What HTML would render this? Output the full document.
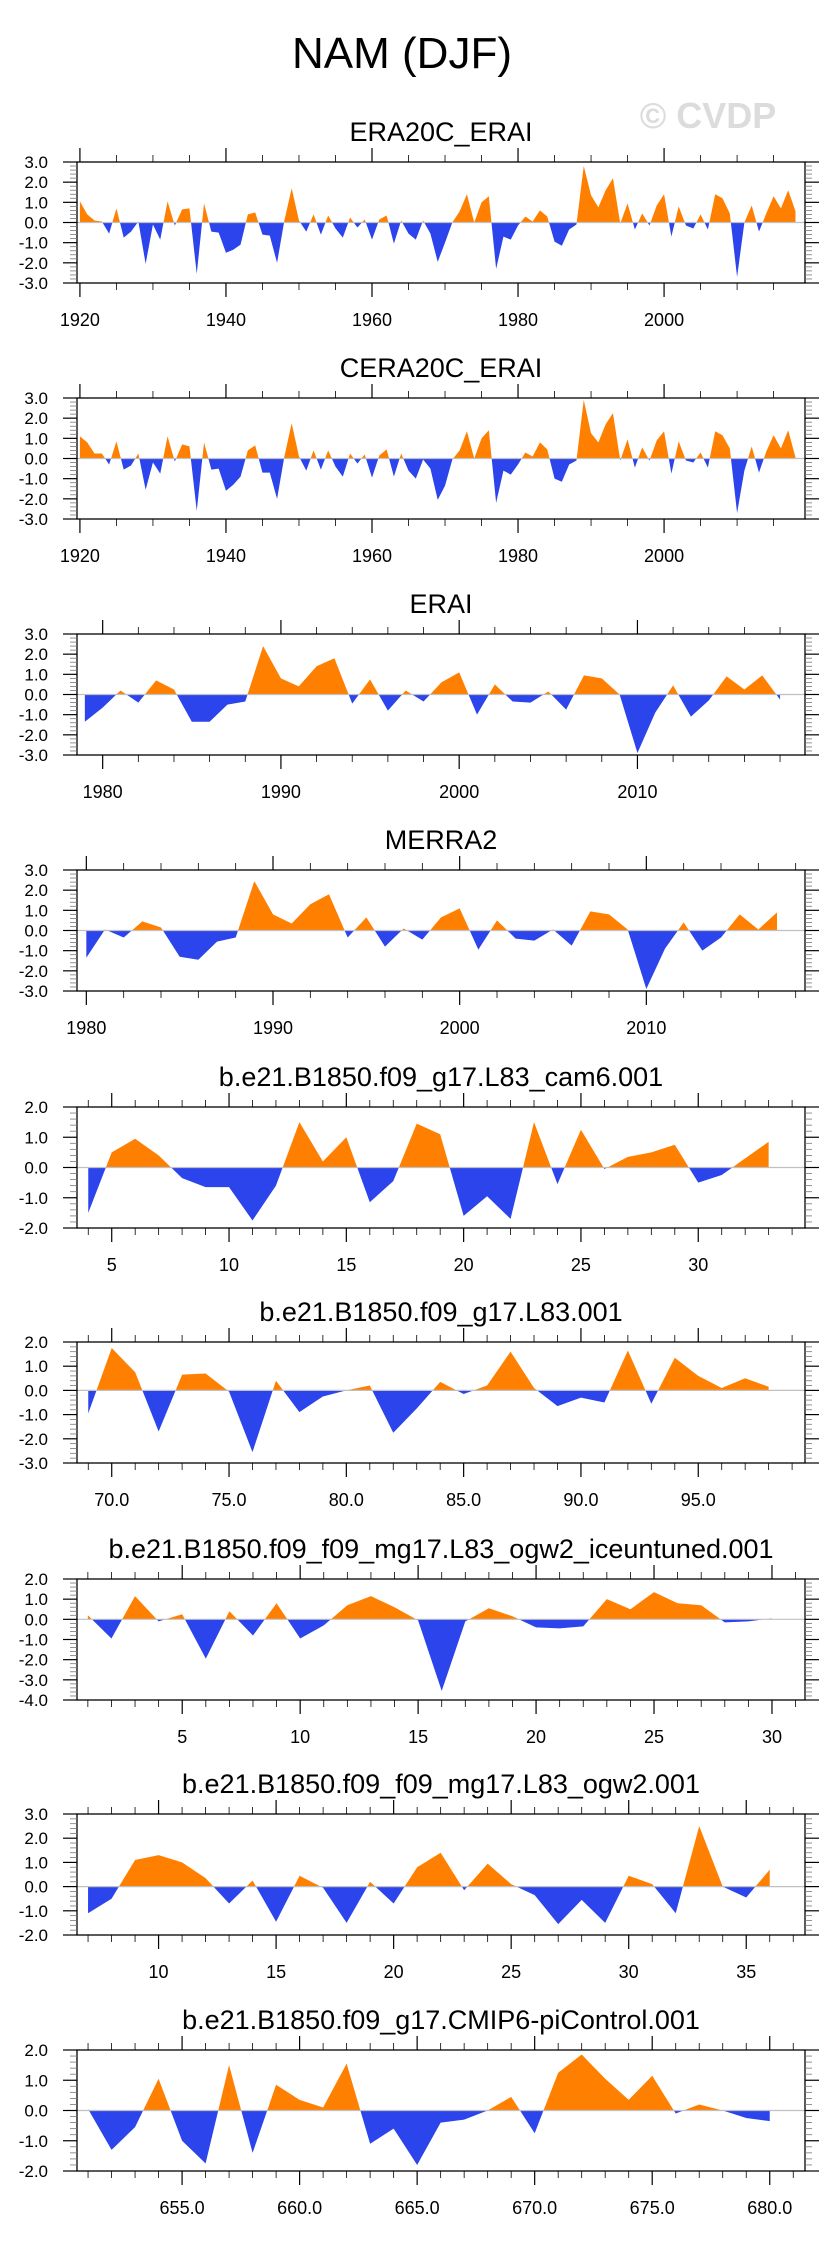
<!DOCTYPE html>
<html><head><meta charset="utf-8"><style>
html,body{margin:0;padding:0;background:#fff;}
svg{display:block;font-family:"Liberation Sans",Arial,sans-serif;}
</style></head><body>
<svg id="chart" width="829" height="2245" viewBox="0 0 829 2245">
<text x="402" y="68" font-size="44" text-anchor="middle" fill="#000">NAM (DJF)</text>
<text x="708" y="128" font-size="36" font-weight="bold" text-anchor="middle" fill="#dcdcdc">© CVDP</text>
</svg>
<script>
const era20cStart = 1920;
const era20cValues = [1.05,0.4,0.1,0.05,-0.55,0.7,-0.75,-0.45,0.05,-2.05,-0.1,-0.85,1.05,-0.15,0.65,0.7,-2.55,0.95,-0.45,-0.5,-1.5,-1.35,-1.1,0.4,0.5,-0.6,-0.65,-2.0,0.1,1.7,0.1,-0.45,0.4,-0.6,0.35,-0.3,-0.75,0.25,-0.25,0.15,-0.85,0.15,0.35,-1.05,0.1,-0.55,-0.85,0.1,-0.55,-1.95,-1.0,0,0.55,1.4,0,1.0,1.3,-2.3,-0.7,-0.85,-0.15,0.3,0.05,0.6,0.3,-0.95,-1.15,-0.35,-0.1,2.8,1.35,0.75,1.6,2.2,-0.05,0.95,-0.35,0.45,-0.15,0.85,1.4,-0.7,0.8,-0.15,-0.3,0.4,-0.35,1.4,1.2,0.45,-2.7,0,0.85,-0.45,0.45,1.3,0.7,1.6,0.55];
const cera20cStart = 1920;
const cera20cValues = [1.1,0.8,0.25,0.25,-0.3,0.85,-0.55,-0.35,0.25,-1.55,-0.2,-0.75,1.1,-0.15,0.7,0.6,-2.6,0.8,-0.55,-0.5,-1.6,-1.3,-0.9,0.4,0.65,-0.7,-0.7,-2.0,0.1,1.75,0.1,-0.6,0.4,-0.55,0.4,-0.4,-0.9,0.25,-0.25,0.2,-0.95,0.15,0.45,-0.9,0.25,-0.6,-1.0,-0.05,-0.5,-2.05,-1.35,-0.05,0.4,1.35,0,1.0,1.4,-2.2,-0.6,-0.8,-0.3,0.3,0.1,0.8,0.45,-1.0,-1.15,-0.3,-0.1,2.9,1.25,0.8,1.7,2.25,-0.1,0.95,-0.45,0.55,-0.1,0.9,1.35,-0.75,0.85,-0.1,-0.2,0.3,-0.45,1.35,1.15,0.5,-2.7,-0.6,0.6,-0.7,0.35,1.15,0.5,1.4,0.05];
const eraiStart = 1979;
const eraiValues = [-1.35,-0.65,0.2,-0.4,0.7,0.25,-1.35,-1.35,-0.5,-0.35,2.4,0.8,0.4,1.4,1.8,-0.45,0.75,-0.8,0.2,-0.35,0.6,1.1,-1.0,0.5,-0.35,-0.4,0.15,-0.75,0.95,0.8,0.0,-2.9,-0.9,0.45,-1.1,-0.3,0.9,0.25,0.95,-0.25];
const merra2Start = 1980;
const merra2Values = [-1.35,0.05,-0.35,0.45,0.15,-1.3,-1.45,-0.55,-0.35,2.45,0.8,0.35,1.3,1.8,-0.35,0.65,-0.8,0.1,-0.45,0.65,1.1,-0.95,0.5,-0.4,-0.5,0.05,-0.75,0.95,0.8,0.05,-2.9,-0.9,0.4,-1.0,-0.35,0.8,0.05,0.9];
const cam6Start = 4;
const cam6Values = [-1.5,0.5,0.95,0.4,-0.35,-0.65,-0.65,-1.75,-0.6,1.5,0.2,1.0,-1.15,-0.45,1.45,1.1,-1.6,-0.95,-1.7,1.5,-0.55,1.25,-0.05,0.35,0.5,0.75,-0.5,-0.25,0.3,0.85];
const l83Start = 69;
const l83Values = [-0.95,1.75,0.75,-1.7,0.65,0.7,-0.05,-2.55,0.4,-0.9,-0.25,0.0,0.2,-1.75,-0.75,0.35,-0.15,0.2,1.6,0.1,-0.65,-0.3,-0.5,1.65,-0.55,1.35,0.6,0.1,0.5,0.15];
const iceStart = 1;
const iceValues = [0.2,-0.95,1.15,-0.1,0.25,-1.95,0.4,-0.8,0.8,-0.95,-0.3,0.7,1.15,0.6,-0.05,-3.55,-0.1,0.55,0.15,-0.4,-0.45,-0.35,1.0,0.5,1.35,0.8,0.7,-0.15,-0.1,0.05];
const ogw2Start = 7;
const ogw2Values = [-1.1,-0.5,1.1,1.3,1.0,0.35,-0.7,0.25,-1.45,0.45,-0.05,-1.5,0.2,-0.7,0.8,1.4,-0.15,0.95,0.1,-0.35,-1.55,-0.55,-1.5,0.45,0.1,-1.1,2.5,0.0,-0.45,0.7];
const piStart = 651;
const piValues = [0.05,-1.3,-0.55,1.05,-1.0,-1.75,1.5,-1.4,0.85,0.35,0.1,1.55,-1.1,-0.6,-1.8,-0.4,-0.3,0.0,0.45,-0.75,1.25,1.85,1.05,0.35,1.15,-0.1,0.2,0.0,-0.25,-0.35];
const panelTitles = ["ERA20C_ERAI","CERA20C_ERAI","ERAI","MERRA2","b.e21.B1850.f09_g17.L83_cam6.001","b.e21.B1850.f09_g17.L83.001","b.e21.B1850.f09_f09_mg17.L83_ogw2_iceuntuned.001","b.e21.B1850.f09_f09_mg17.L83_ogw2.001","b.e21.B1850.f09_g17.CMIP6-piControl.001"];
const yMins = [-3,-3,-3,-3,-2,-3,-4,-2,-2];
const yMaxs = [3,3,3,3,2,2,2,3,2];

const NS = "http://www.w3.org/2000/svg";
const svg = document.getElementById("chart");
const L = 77, R = 805, H = 121;
const panels = [
 {s:era20cStart,v:era20cValues,x0:1919.6,x1:2019.3,maj:20,mn:5,m0:1920,dec:0,top:162,key:"era20c"},
 {s:cera20cStart,v:cera20cValues,x0:1919.6,x1:2019.3,maj:20,mn:5,m0:1920,dec:0,top:398,key:"cera20c"},
 {s:eraiStart,v:eraiValues,x0:1978.56,x1:2019.4,maj:10,mn:2,m0:1980,dec:0,top:634,key:"erai"},
 {s:merra2Start,v:merra2Values,x0:1979.5,x1:2018.5,maj:10,mn:2,m0:1980,dec:0,top:870,key:"merra2"},
 {s:cam6Start,v:cam6Values,x0:3.52,x1:34.55,maj:5,mn:1,m0:5,dec:0,top:1107,key:"cam6"},
 {s:l83Start,v:l83Values,x0:68.52,x1:99.55,maj:5,mn:1,m0:70,dec:1,top:1342,key:"l83"},
 {s:iceStart,v:iceValues,x0:0.54,x1:31.4,maj:5,mn:1,m0:5,dec:0,top:1579,key:"iceuntuned"},
 {s:ogw2Start,v:ogw2Values,x0:6.53,x1:37.5,maj:5,mn:1,m0:10,dec:0,top:1814,key:"ogw2"},
 {s:piStart,v:piValues,x0:650.53,x1:681.5,maj:5,mn:1,m0:655,dec:1,top:2050,key:"picontrol"}
];
function mk(tag, attrs, parent){const e=document.createElementNS(NS,tag);for(const k in attrs)e.setAttribute(k,attrs[k]);(parent||svg).appendChild(e);return e;}
panels.forEach((p,i)=>{
 const g = mk("g",{});
 
 
 const ymin=yMins[i], ymax=yMaxs[i], top=p.top, bot=top+H;
 const xs = t => L + (t-p.x0)/(p.x1-p.x0)*(R-L);
 const ys = v => bot - (v-ymin)/(ymax-ymin)*H;
 const y0 = ys(0);
 const t = mk("text",{x:441,y:top-21,"font-size":27,"text-anchor":"middle",fill:"#000"},g);
 t.textContent = panelTitles[i];
 
 
 // clip paths
 const defs = mk("defs",{},g);
 const cpA = mk("clipPath",{id:"ca"+i},defs); mk("rect",{x:L,y:top,width:R-L,height:y0-top},cpA);
 const cpB = mk("clipPath",{id:"cb"+i},defs); mk("rect",{x:L,y:y0,width:R-L,height:bot-y0},cpB);
 let pts = p.v.map((v,k)=>xs(p.s+k).toFixed(2)+","+ys(v).toFixed(2));
 const xa = xs(p.s), xb = xs(p.s+p.v.length-1);
 const poly = xa.toFixed(2)+","+y0+" "+pts.join(" ")+" "+xb.toFixed(2)+","+y0;
 const pos = mk("polygon",{points:poly,fill:"#ff8000","clip-path":"url(#ca"+i+")"},g);
 
 
 const neg = mk("polygon",{points:poly,fill:"#2b44ec","clip-path":"url(#cb"+i+")"},g);
 
 
 const zl = mk("line",{x1:L,x2:R,y1:y0,y2:y0,stroke:"#c0c0c0","stroke-width":1.2},g);
 
 
 const fr = mk("rect",{x:L,y:top,width:R-L,height:H,fill:"none",stroke:"#000","stroke-width":1.3},g);
 
 
 // x ticks
 let start = p.m0 - Math.floor((p.m0-p.x0)/p.mn)*p.mn;
 for(let tv=start; tv<=p.x1+1e-6; tv+=p.mn){
   const x = xs(tv);
   const isMaj = Math.abs(((tv-p.m0)%p.maj+p.maj)%p.maj)<1e-6;
   const len = isMaj?14:7;
   mk("line",{x1:x,x2:x,y1:top,y2:top-len,stroke:"#000","stroke-width":isMaj?1.2:0.8},g);
   mk("line",{x1:x,x2:x,y1:bot,y2:bot+len,stroke:"#000","stroke-width":isMaj?1.2:0.8},g);
   if(isMaj){
     const lb = mk("text",{x:x,y:bot+43,"font-size":18,"text-anchor":"middle",fill:"#000"},g);
     lb.textContent = tv.toFixed(p.dec);
     
     
   }
 }
 // y ticks
 for(let k=0; k<=Math.round((ymax-ymin)/0.2); k++){
   const v = ymin + k*0.2, y = ys(v);
   const isMaj = Math.abs(v-Math.round(v))<1e-6;
   const len = isMaj?14:7;
   mk("line",{x1:L,x2:L-len,y1:y,y2:y,stroke:isMaj?"#000":"#777","stroke-width":isMaj?1.2:0.8},g);
   mk("line",{x1:R,x2:R+len,y1:y,y2:y,stroke:isMaj?"#000":"#777","stroke-width":isMaj?1.2:0.8},g);
   if(isMaj){
     const lb = mk("text",{x:48,y:y+6,"font-size":17,"text-anchor":"end",fill:"#000"},g);
     lb.textContent = Math.round(v).toFixed(1);
     
     
   }
 }
});
</script>
</body></html>
